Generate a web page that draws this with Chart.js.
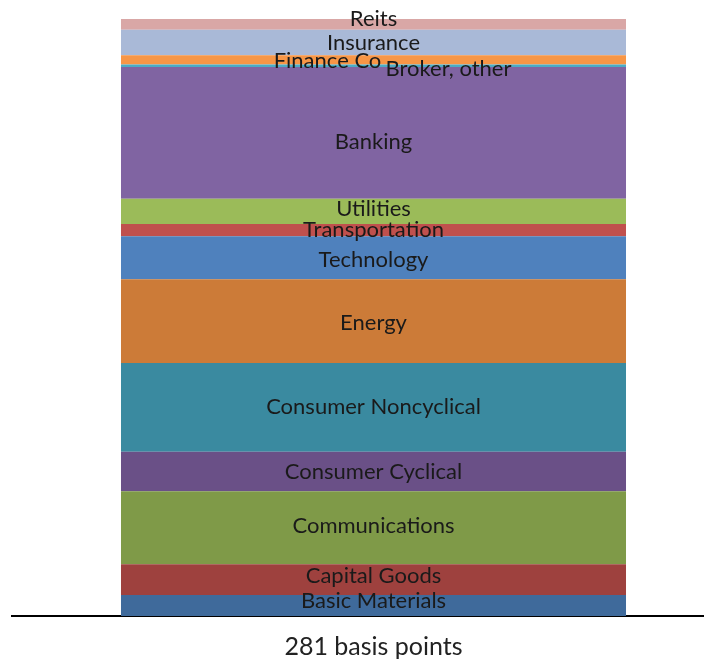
<!DOCTYPE html>
<html lang="en">
<head>
    <meta charset="UTF-8">
    <title>Spread by Sector</title>
    <script src="https://cdn.jsdelivr.net/npm/chart.js"></script>
    <style>
        html, body { margin: 0; padding: 0; background: white; overflow: hidden; }
        .chart-box { width: 735px; height: 671px; }
    </style>
</head>
<body>
    <div class="chart-box">
        <canvas id="sectorChart"></canvas>
    </div>

    <script>
        // sectors, bottom of the bar to the top
        const sectors = [
            "Basic Materials", "Capital Goods", "Communications", "Consumer Cyclical",
            "Consumer Noncyclical", "Energy", "Technology", "Transportation", "Utilities",
            "Banking", "Broker, other", "Finance Co", "Insurance", "Reits"
        ];
        // contribution of each sector, basis points
        const contributions = [9.9, 14.4, 34.4, 18.6, 41.8, 39.3, 20.3, 5.7, 11.9, 62.0, 1.2, 4.4, 11.9, 5.1];
        const sectorColors = [
            "#3f6a9b", "#9e413e", "#7f9a48", "#6a5087",
            "#3a8aa0", "#cc7b38", "#4f81bd", "#c0504d", "#9bbb59",
            "#8064a2", "#4bacc6", "#f79646", "#a9b9d7", "#d9a7a6"
        ];
        const totalLabel = ["281 basis points"];

        const total = contributions.reduce((a, b) => a + b, 0);

        // small nudges so crowded labels don't sit on top of each other
        const nudge = {
            "Reits": [0, -6],
            "Finance Co": [-46, 1],
            "Broker, other": [75, 3],
            "Banking": [0, 9],
            "Utilities": [0, -3],
            "Technology": [0, 2],
            "Energy": [0, 2],
            "Capital Goods": [0, -4],
            "Basic Materials": [0, -5],
            "Communications": [0, -2]
        };

        const segmentLabels = {
            id: 'segmentLabels',
            afterDatasetsDraw(chart) {
                const ctx = chart.ctx;
                ctx.save();
                ctx.font = '22px Lato';
                ctx.fillStyle = '#1a1a1a';
                ctx.textAlign = 'center';
                ctx.textBaseline = 'middle';
                chart.data.datasets.forEach((ds, i) => {
                    const bar = chart.getDatasetMeta(i).data[0];
                    const d = nudge[ds.label] || [0, 0];
                    ctx.fillText(ds.label, bar.x + d[0], (bar.y + bar.base) / 2 + d[1]);
                });
                ctx.restore();
            }
        };

        new Chart(document.getElementById("sectorChart"), {
            type: 'bar',
            data: {
                labels: totalLabel,
                datasets: sectors.map((name, i) => ({
                    label: name,
                    data: [contributions[i]],
                    backgroundColor: sectorColors[i],
                    borderWidth: 0,
                    categoryPercentage: 1,
                    barPercentage: 0.6985
                }))
            },
            options: {
                responsive: true,
                maintainAspectRatio: false,
                animation: false,
                layout: { padding: { top: 19, left: 12, right: 0, bottom: 1 } },
                plugins: {
                    legend: { display: false },
                    tooltip: { enabled: false }
                },
                scales: {
                    x: {
                        stacked: true,
                        grid: { display: false },
                        border: { display: true, color: '#000', width: 2 },
                        ticks: { color: '#222', font: { family: 'Lato', size: 25 }, padding: 8 }
                    },
                    y: {
                        stacked: true,
                        display: false,
                        min: 0,
                        max: total
                    }
                }
            },
            plugins: [segmentLabels]
        });
    </script>
</body>
</html>
